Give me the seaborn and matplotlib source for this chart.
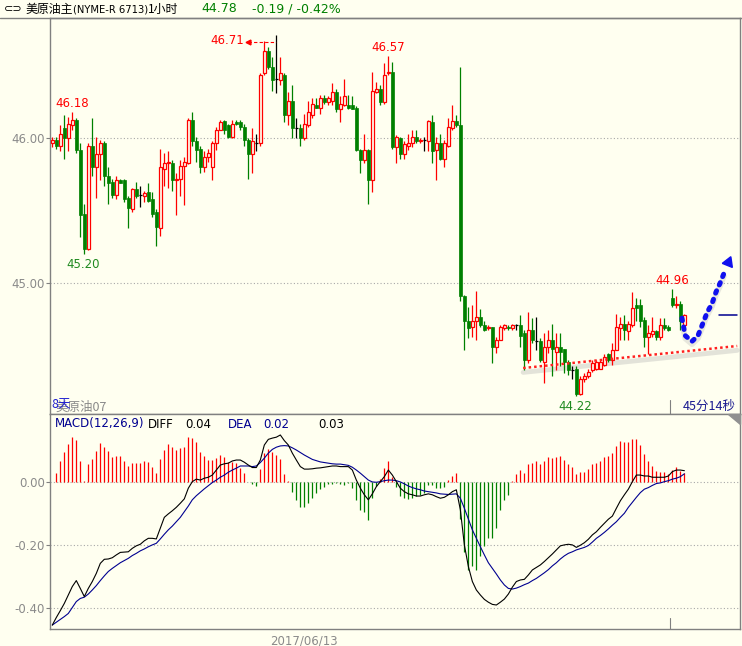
import numpy as np
import pandas as pd
import matplotlib
matplotlib.use("Agg")
import matplotlib.pyplot as plt
from matplotlib.patches import Polygon
from matplotlib.lines import Line2D
import seaborn as sns

# candle data (1 hour bars)
opens = [45.97, 45.99, 45.95, 46.07, 46.00, 46.09, 46.13, 45.92, 45.48, 45.24,
         45.95, 45.80, 45.89, 45.97, 45.74, 45.70, 45.61, 45.71, 45.71, 45.59,
         45.51, 45.65, 45.61, 45.60, 45.63, 45.58, 45.49, 45.38, 45.79, 45.83,
         45.83, 45.71, 45.72, 45.81, 45.83, 46.13, 45.98, 45.93, 45.80, 45.87,
         45.80, 45.97, 46.06, 46.12, 46.09, 46.01, 46.11, 46.11, 46.08, 45.99,
         45.89, 45.97, 45.97, 46.45, 46.60, 46.49, 46.41, 46.40, 46.44, 46.16,
         46.26, 46.07, 46.07, 46.00, 46.09, 46.16, 46.23, 46.21, 46.28, 46.25,
         46.26, 46.32, 46.20, 46.23, 46.23, 46.23, 46.21, 45.92, 45.85, 45.92,
         45.71, 46.32, 46.34, 46.25, 46.45, 46.46, 45.94, 46.00, 45.89, 45.95,
         45.97, 46.01, 45.98, 45.99, 45.98, 46.11, 45.92, 45.97, 45.86, 45.95,
         46.07, 46.12, 46.09, 44.91, 44.74, 44.70, 44.74, 44.77, 44.71, 44.69,
         44.70, 44.56, 44.61, 44.69, 44.70, 44.69, 44.71, 44.71, 44.66, 44.47,
         44.68, 44.60, 44.60, 44.46, 44.56, 44.61, 44.53, 44.56, 44.55, 44.46,
         44.40, 44.41, 44.24, 44.34, 44.36, 44.40, 44.41, 44.41, 44.44, 44.51,
         44.47, 44.54, 44.69, 44.72, 44.67, 44.71, 44.85, 44.85, 44.75, 44.63,
         44.65, 44.67, 44.63, 44.71, 44.70, 44.90, 44.85, 44.86, 44.71]
highs = [46.01, 46.01, 46.09, 46.16, 46.15, 46.18, 46.14, 45.97, 45.55, 45.97,
         46.14, 46.01, 45.99, 45.98, 45.80, 45.72, 45.74, 45.72, 45.72, 45.60,
         45.66, 45.70, 45.67, 45.64, 45.69, 45.63, 45.51, 45.93, 45.90, 45.91,
         45.85, 45.76, 45.85, 45.87, 46.14, 46.18, 46.01, 45.95, 45.91, 45.93,
         45.98, 46.08, 46.13, 46.13, 46.10, 46.13, 46.13, 46.13, 46.10, 46.00,
         46.07, 46.03, 46.45, 46.67, 46.63, 46.56, 46.71, 46.56, 46.45, 46.32,
         46.37, 46.14, 46.10, 46.17, 46.26, 46.28, 46.28, 46.30, 46.30, 46.29,
         46.38, 46.34, 46.29, 46.41, 46.30, 46.29, 46.22, 45.93, 46.03, 45.93,
         46.46, 46.39, 46.37, 46.52, 46.57, 46.53, 46.02, 46.01, 45.98, 46.03,
         46.06, 46.06, 46.00, 46.01, 46.13, 46.16, 46.01, 46.03, 45.99, 46.14,
         46.23, 46.16, 46.49, 44.92, 44.84, 44.85, 44.95, 44.82, 44.74, 44.71,
         44.70, 44.63, 44.71, 44.72, 44.71, 44.72, 44.72, 44.78, 44.68, 44.80,
         44.76, 44.77, 44.62, 44.66, 44.68, 44.72, 44.66, 44.66, 44.55, 44.47,
         44.43, 44.43, 44.36, 44.38, 44.41, 44.47, 44.47, 44.48, 44.51, 44.52,
         44.59, 44.79, 44.77, 44.78, 44.74, 44.94, 44.90, 44.89, 44.77, 44.71,
         44.77, 44.68, 44.76, 44.76, 44.71, 44.96, 44.91, 44.88, 44.79]
lows = [45.94, 45.93, 45.91, 45.86, 45.91, 46.06, 45.90, 45.32, 45.20, 45.23,
        45.74, 45.59, 45.71, 45.67, 45.55, 45.59, 45.58, 45.69, 45.56, 45.38,
        45.49, 45.59, 45.53, 45.56, 45.56, 45.46, 45.26, 45.33, 45.67, 45.66,
        45.64, 45.47, 45.60, 45.54, 45.82, 45.95, 45.84, 45.76, 45.77, 45.84,
        45.71, 45.92, 46.06, 46.03, 46.00, 46.00, 46.09, 46.06, 45.95, 45.72,
        45.76, 45.91, 45.95, 46.44, 46.48, 46.33, 46.31, 46.37, 46.11, 46.09,
        46.00, 46.00, 45.95, 45.99, 46.08, 46.14, 46.21, 46.17, 46.24, 46.23,
        46.23, 46.18, 46.11, 46.22, 46.20, 46.20, 45.91, 45.76, 45.83, 45.55,
        45.63, 46.31, 46.23, 46.24, 46.44, 45.93, 45.83, 45.86, 45.86, 45.92,
        45.94, 45.97, 45.97, 45.91, 45.91, 45.83, 45.71, 45.85, 45.80, 45.94,
        46.06, 46.08, 44.88, 44.54, 44.62, 44.63, 44.61, 44.70, 44.67, 44.68,
        44.45, 44.52, 44.61, 44.68, 44.68, 44.68, 44.68, 44.56, 44.40, 44.45,
        44.59, 44.54, 44.46, 44.31, 44.52, 44.36, 44.40, 44.43, 44.38, 44.37,
        44.34, 44.22, 44.23, 44.32, 44.35, 44.39, 44.40, 44.41, 44.43, 44.46,
        44.44, 44.54, 44.61, 44.61, 44.61, 44.70, 44.74, 44.70, 44.56, 44.51,
        44.63, 44.61, 44.61, 44.68, 44.67, 44.84, 44.83, 44.68, 44.70]
closes = [45.99, 45.95, 46.03, 46.00, 46.10, 46.13, 45.92, 45.47, 45.24, 45.95,
          45.80, 45.89, 45.97, 45.74, 45.69, 45.61, 45.71, 45.69, 45.58, 45.52,
          45.65, 45.60, 45.61, 45.62, 45.57, 45.48, 45.39, 45.80, 45.83, 45.84,
          45.71, 45.72, 45.81, 45.84, 46.13, 45.98, 45.92, 45.80, 45.87, 45.90,
          45.97, 46.06, 46.11, 46.06, 46.01, 46.10, 46.10, 46.08, 45.99, 45.89,
          45.98, 45.97, 46.44, 46.60, 46.49, 46.40, 46.41, 46.45, 46.16, 46.26,
          46.07, 46.07, 46.00, 46.10, 46.18, 46.24, 46.21, 46.28, 46.25, 46.28,
          46.32, 46.20, 46.24, 46.29, 46.21, 46.20, 45.92, 45.85, 45.92, 45.71,
          46.33, 46.34, 46.25, 46.44, 46.46, 45.94, 46.01, 45.89, 45.96, 45.97,
          46.01, 45.98, 45.99, 45.99, 46.12, 45.91, 45.97, 45.86, 45.97, 46.08,
          46.12, 46.09, 44.91, 44.74, 44.69, 44.74, 44.77, 44.71, 44.68, 44.70,
          44.56, 44.61, 44.70, 44.71, 44.69, 44.71, 44.71, 44.64, 44.47, 44.68,
          44.61, 44.60, 44.47, 44.56, 44.61, 44.55, 44.56, 44.53, 44.46, 44.40,
          44.40, 44.24, 44.34, 44.36, 44.39, 44.45, 44.46, 44.46, 44.49, 44.47,
          44.54, 44.70, 44.72, 44.68, 44.72, 44.83, 44.83, 44.74, 44.63, 44.66,
          44.67, 44.63, 44.71, 44.69, 44.68, 44.85, 44.86, 44.74, 44.78]

# MACD(12,26,9) panel
macd_hist = [0.0, 0.031, 0.068, 0.096, 0.122, 0.146, 0.135, 0.068, 0.004, 0.059,
             0.075, 0.100, 0.125, 0.112, 0.100, 0.082, 0.084, 0.084, 0.068, 0.053,
             0.063, 0.063, 0.063, 0.068, 0.064, 0.048, 0.031, 0.075, 0.103, 0.122,
             0.112, 0.103, 0.111, 0.112, 0.144, 0.141, 0.128, 0.096, 0.084, 0.071,
             0.071, 0.077, 0.087, 0.082, 0.064, 0.066, 0.061, 0.047, 0.029, 0.001,
             -0.005, -0.011, 0.043, 0.093, 0.107, 0.096, 0.087, 0.075, 0.027, 0.004,
             -0.030, -0.056, -0.080, -0.080, -0.065, -0.049, -0.035, -0.021, -0.014, -0.006,
             -0.005, -0.003, -0.006, -0.009, -0.003, -0.019, -0.056, -0.088, -0.096, -0.122,
             -0.051, -0.012, 0.010, 0.045, 0.069, 0.016, -0.014, -0.044, -0.051, -0.053,
             -0.049, -0.044, -0.040, -0.033, -0.009, -0.009, -0.019, -0.019, -0.014, 0.008,
             0.020, 0.029, -0.118, -0.222, -0.280, -0.269, -0.280, -0.237, -0.203, -0.179,
             -0.179, -0.145, -0.088, -0.058, -0.040, 0.004, 0.027, 0.039, 0.031, 0.057,
             0.063, 0.069, 0.059, 0.068, 0.081, 0.079, 0.082, 0.084, 0.071, 0.058,
             0.050, 0.027, 0.032, 0.032, 0.043, 0.059, 0.063, 0.069, 0.082, 0.085,
             0.093, 0.116, 0.133, 0.128, 0.128, 0.137, 0.137, 0.119, 0.089, 0.068,
             0.052, 0.037, 0.034, 0.032, 0.027, 0.039, 0.048, 0.037, 0.031]
diff = [-0.456, -0.432, -0.410, -0.387, -0.360, -0.333, -0.314, -0.339, -0.365, -0.339,
        -0.317, -0.291, -0.259, -0.246, -0.245, -0.241, -0.232, -0.224, -0.223, -0.222,
        -0.211, -0.203, -0.198, -0.187, -0.179, -0.179, -0.181, -0.147, -0.112, -0.101,
        -0.091, -0.080, -0.067, -0.053, -0.019, 0.002, 0.010, 0.007, 0.013, 0.016,
        0.023, 0.039, 0.055, 0.059, 0.061, 0.068, 0.071, 0.071, 0.064, 0.055,
        0.047, 0.047, 0.071, 0.119, 0.137, 0.141, 0.144, 0.151, 0.133, 0.119,
        0.093, 0.071, 0.050, 0.042, 0.042, 0.043, 0.045, 0.046, 0.048, 0.050,
        0.052, 0.052, 0.050, 0.050, 0.050, 0.039, 0.007, -0.019, -0.040, -0.056,
        -0.037, -0.014, 0.002, 0.018, 0.039, 0.023, 0.002, -0.019, -0.030, -0.037,
        -0.040, -0.044, -0.044, -0.040, -0.037, -0.040, -0.046, -0.051, -0.048, -0.040,
        -0.030, -0.024, -0.088, -0.200, -0.269, -0.317, -0.344, -0.360, -0.374, -0.383,
        -0.390, -0.392, -0.383, -0.373, -0.357, -0.335, -0.317, -0.312, -0.310, -0.296,
        -0.280, -0.272, -0.264, -0.253, -0.241, -0.229, -0.216, -0.203, -0.200, -0.198,
        -0.200, -0.208, -0.201, -0.193, -0.182, -0.168, -0.158, -0.144, -0.131, -0.118,
        -0.108, -0.083, -0.059, -0.040, -0.022, 0.002, 0.023, 0.023, 0.020, 0.020,
        0.016, 0.016, 0.016, 0.016, 0.020, 0.034, 0.039, 0.039, 0.037]
dea = [-0.456, -0.447, -0.438, -0.429, -0.419, -0.400, -0.381, -0.371, -0.367, -0.357,
       -0.344, -0.330, -0.314, -0.299, -0.285, -0.275, -0.266, -0.257, -0.250, -0.243,
       -0.234, -0.227, -0.219, -0.213, -0.206, -0.200, -0.195, -0.181, -0.166, -0.152,
       -0.140, -0.126, -0.112, -0.094, -0.076, -0.056, -0.043, -0.032, -0.021, -0.011,
       -0.001, 0.007, 0.016, 0.023, 0.032, 0.039, 0.045, 0.052, 0.052, 0.052,
       0.050, 0.052, 0.063, 0.077, 0.093, 0.105, 0.112, 0.116, 0.117, 0.116,
       0.110, 0.103, 0.095, 0.087, 0.080, 0.073, 0.069, 0.065, 0.063, 0.061,
       0.059, 0.058, 0.058, 0.056, 0.054, 0.048, 0.039, 0.029, 0.018, 0.007,
       0.001, 0.000, 0.002, 0.005, 0.007, 0.007, 0.005, 0.001, -0.005, -0.012,
       -0.017, -0.021, -0.024, -0.028, -0.030, -0.032, -0.034, -0.037, -0.038, -0.039,
       -0.038, -0.037, -0.051, -0.083, -0.118, -0.152, -0.179, -0.206, -0.232, -0.257,
       -0.275, -0.293, -0.312, -0.328, -0.339, -0.341, -0.338, -0.333, -0.327, -0.322,
       -0.314, -0.307, -0.298, -0.289, -0.279, -0.267, -0.257, -0.245, -0.235, -0.227,
       -0.222, -0.216, -0.212, -0.208, -0.202, -0.191, -0.179, -0.170, -0.160, -0.149,
       -0.137, -0.126, -0.112, -0.099, -0.080, -0.064, -0.048, -0.033, -0.022, -0.017,
       -0.010, -0.004, -0.002, 0.002, 0.005, 0.010, 0.013, 0.018, 0.027]

price_ticks = [46.0, 45.0]
price_labels = ["46.00", "45.00"]
macd_ticks = [0.0, -0.2, -0.4]
macd_labels = ["0.00", "-0.20", "-0.40"]
date_pos = [64]
date_labels = ["2017/06/13"]

# marked highs / lows
high_marks = [(6, "46.18"), (85, "46.57"), (156, "44.96")]
low_marks = [(9, "45.20"), (132, "44.22")]
top_mark = (57, "46.71")

# hand drawn things on the chart
trend_x = [118.7, 172.2]
trend_y = [44.416, 44.568]
arrow_x = [158.4, 159.2, 160.9, 162.4, 163.7, 164.7, 165.9, 166.9, 167.9, 168.9]
arrow_y = [44.76, 44.64, 44.60, 44.64, 44.73, 44.80, 44.86, 44.94, 45.00, 45.07]
last_price = 44.78

df = pd.DataFrame({"i": np.arange(1, len(opens) + 1), "o": opens, "h": highs,
                   "l": lows, "c": closes})
macd = pd.DataFrame({"i": df["i"], "bar": macd_hist, "diff": diff, "dea": dea})

BG = "#fffff0"
RED = "#ff0000"
GREEN = "#008000"
GRAY = "#808080"
NAVY = "#000090"

sns.set_style("white", {"axes.facecolor": BG, "figure.facecolor": BG})
plt.rcParams["font.family"] = ["DejaVu Sans", "Noto Sans CJK SC"]
CJK = ["Noto Sans CJK SC", "DejaVu Sans"]

W, H = 742, 646
def px(x, y):
    return x / W, 1 - y / H

fig = plt.figure(figsize=(7.42, 6.46), dpi=100)
fig.patch.set_facecolor(BG)
ax = fig.add_axes([50 / W, 1 - 414 / H, 690 / W, 396 / H])
ax2 = fig.add_axes([50 / W, 1 - 628.5 / H, 690 / W, 214.5 / H])

# ---- candles ----
up = df[df["c"] > df["o"]]
dn = df[df["c"] < df["o"]]
dj = df[df["c"] == df["o"]]
ax.vlines(up["i"], up["c"], up["h"], color=RED, lw=0.9, zorder=2)
ax.vlines(up["i"], up["l"], up["o"], color=RED, lw=0.9, zorder=2)
ax.bar(up["i"], up["c"] - up["o"], bottom=up["o"], width=0.62, facecolor=BG,
       edgecolor=RED, linewidth=0.9, zorder=3)
ax.vlines(dn["i"], dn["l"], dn["h"], color=GREEN, lw=0.9, zorder=2)
ax.bar(dn["i"], dn["o"] - dn["c"], bottom=dn["c"], width=0.72, color=GREEN,
       edgecolor=GREEN, linewidth=0.5, zorder=3)
ax.vlines(dj["i"], dj["l"], dj["h"], color="black", lw=0.9, zorder=2)
ax.hlines(dj["c"], dj["i"] - 0.4, dj["i"] + 0.4, color="black", lw=0.9, zorder=3)

ax.set_xlim(0.425, 172.9)
ax.set_ylim(44.099, 46.83)
ax.set_yticks(price_ticks, price_labels)
ax.set_xticks([])
ax.grid(axis="y", color="#a8a8a8", linestyle=(0, (1, 2)), lw=0.8)

for i, lab in high_marks:
    ax.annotate(lab, (i, highs[i - 1]), xytext=(0, 1.5), textcoords="offset points",
                ha="center", va="bottom", color=RED, fontsize=8.5)
for i, lab in low_marks:
    ax.annotate(lab, (i, lows[i - 1]), xytext=(-1, -2.5), textcoords="offset points",
                ha="center", va="top", color="#1f8a1f", fontsize=8.5)
ti, tlab = top_mark
ax.annotate(tlab, (ti, highs[ti - 1]), xytext=(-23, -3.5), textcoords="offset points",
            ha="right", va="center", color=RED, fontsize=8.5)
ax.plot([ti - 7.1, ti], [46.666, 46.666], color=RED, lw=0.8, ls=(0, (3, 2)))
ax.plot([ti - 7.1], [46.666], marker="<", color=RED, markersize=3.5)

# trend line with its shadow
ax.plot(trend_x, np.array(trend_y) - 0.03, color="#d8d8d0", lw=3.5, alpha=0.7, zorder=1)
ax.plot(trend_x, trend_y, color="#ff2020", lw=1.8, ls=(0, (1, 1.2)), zorder=4)

# dotted blue arrow
ax.plot(arrow_x, np.array(arrow_y) - 0.02, color="#d8d8d0", lw=4, alpha=0.6, zorder=1)
ax.plot(arrow_x, arrow_y, color="#1010ee", lw=3.6, ls=(0, (0.5, 1.3)),
        dash_capstyle="round", zorder=5)
ax.plot([170.0], [45.15], marker=(3, 0, -22), color="#1010ee", markersize=9, zorder=5)

ax.plot([167.7, 172.2], [last_price, last_price], color=NAVY, lw=1.1)
ax.axvline(155.4, ymin=0, ymax=0.035, color=GRAY, lw=0.8)

# ---- MACD ----
pos = macd[macd["bar"] > 0]
neg = macd[macd["bar"] < 0]
ax2.vlines(pos["i"], 0, pos["bar"], color=RED, lw=0.9)
ax2.vlines(neg["i"], 0, neg["bar"], color=GREEN, lw=0.9)
sns.lineplot(data=macd, x="i", y="dea", ax=ax2, color=NAVY, lw=0.8)
sns.lineplot(data=macd, x="i", y="diff", ax=ax2, color="black", lw=0.8)
ax2.set_xlim(0.425, 172.9)
ax2.set_ylim(-0.467, 0.218)
ax2.set_yticks(macd_ticks, macd_labels)
ax2.set_xticks(date_pos, date_labels)
ax2.set_xlabel("")
ax2.set_ylabel("")
ax2.grid(axis="y", color="#a8a8a8", linestyle=(0, (1, 2)), lw=0.8)
ax2.axvline(155.4, ymin=0, ymax=0.047, color=GRAY, lw=0.8)

for a in (ax, ax2):
    for s in a.spines.values():
        s.set_color(GRAY)
        s.set_linewidth(1)
    a.tick_params(axis="y", colors=GRAY, labelcolor="#8a8a8a", labelsize=8.5,
                  length=3, width=0.8, pad=0.5, direction="out", left=True)
    a.set_axisbelow(True)
ax2.tick_params(axis="x", length=0, labelsize=8.5, labelcolor="#8a8a8a", pad=4)

# ---- text outside plots ----
fig.add_artist(Line2D([0, 1], [1 - 18 / H, 1 - 18 / H], color=GRAY, lw=1))
fig.text(*px(4, 9), "⊂⊃", fontsize=8, va="center", color="black")
fig.text(*px(25, 9), "美原油主", fontsize=8.6, va="center", family=CJK, color="black")
fig.text(*px(73, 9.5), "(NYME-R 6713)", fontsize=7.2, va="center", color="black")
fig.text(*px(148, 9), "1小时", fontsize=8.6, va="center", family=CJK, color="black")
fig.text(*px(201, 9), "44.78", fontsize=9, va="center", color=GREEN)
fig.text(*px(252, 9), "-0.19 / -0.42%", fontsize=9, va="center", color=GREEN)

fig.text(*px(55, 407), "美原油07", fontsize=9, va="center", family=CJK, color="#8a8a8a")
fig.text(*px(51, 405), "8天", fontsize=9, va="center", family=CJK, color="#2020d0")
fig.text(*px(736, 406), "45分14秒", fontsize=9, va="center", ha="right", family=CJK,
         color="#1a1a90")

hdr_y = 424
fig.text(*px(55, hdr_y), "MACD(12,26,9)", fontsize=8.5, va="center", color=NAVY)
fig.text(*px(148, hdr_y), "DIFF", fontsize=8.5, va="center", color="black")
fig.text(*px(185, hdr_y), "0.04", fontsize=8.5, va="center", color="black")
fig.text(*px(228, hdr_y), "DEA", fontsize=8.5, va="center", color=NAVY)
fig.text(*px(263, hdr_y), "0.02", fontsize=8.5, va="center", color=NAVY)
fig.text(*px(318, hdr_y), "0.03", fontsize=8.5, va="center", color="black")

fig.add_artist(Polygon([px(728, 414), px(740, 414), px(740, 424)], closed=True,
                       transform=fig.transFigure, color="#909090"))

fig.savefig("out.png", dpi=100, facecolor=BG)
